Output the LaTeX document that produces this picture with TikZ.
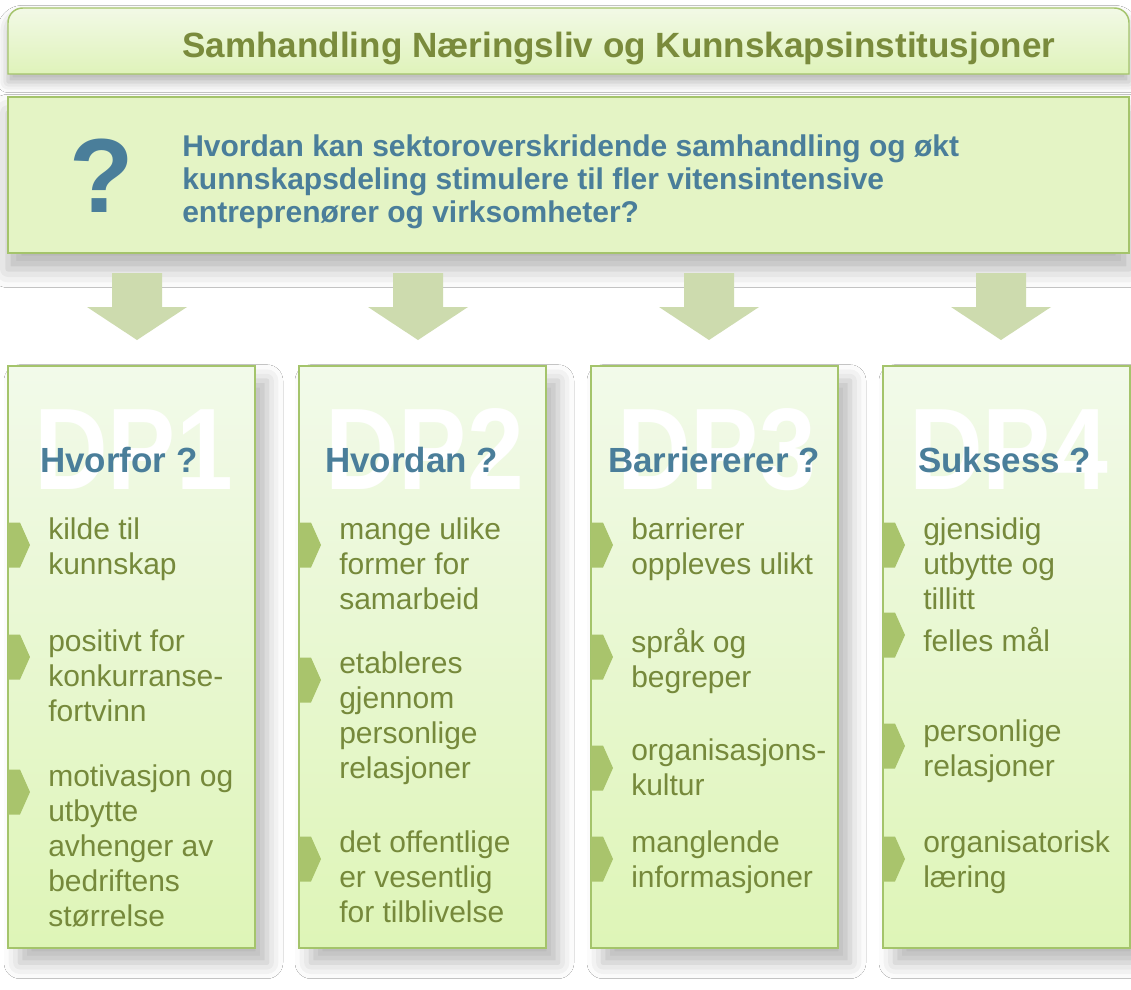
\documentclass[tikz,border=0pt]{standalone}
\usepackage{fontspec}
\setmainfont{Liberation Sans}
\usetikzlibrary{shadows.blur}
\definecolor{bord}{HTML}{A4C46B}
\definecolor{titletext}{HTML}{7A8B3C}
\definecolor{bluetext}{HTML}{4A7E9A}
\definecolor{bullettext}{HTML}{76893B}
\definecolor{chevc}{HTML}{A9C46C}
\definecolor{arrowc}{HTML}{CDDBAE}
\definecolor{boxtop}{HTML}{F2FAEA}
\definecolor{boxbot}{HTML}{DEF5B7}
\definecolor{qfill}{HTML}{E4F4C5}
\definecolor{ttop}{HTML}{F2F9E6}
\definecolor{tbot}{HTML}{DFF3BA}
\newcommand\lns[1]{\begin{tabular}[t]{@{}l@{}}#1\end{tabular}}
\tikzset{
  panel/.style={draw=bord, line width=1.1pt, top color=boxtop, bottom color=boxbot,
    blur shadow={shadow xshift=9pt, shadow yshift=-11pt, shadow blur radius=12pt, shadow opacity=28}},
  titlebox/.style={draw=bord, line width=1.1pt, top color=ttop, bottom color=tbot,
    blur shadow={shadow xshift=0pt, shadow yshift=-6pt, shadow blur radius=8pt, shadow opacity=30}},
  qbox/.style={draw=bord, line width=1.1pt, fill=qfill,
    blur shadow={shadow xshift=0pt, shadow yshift=-12pt, shadow blur radius=14pt, shadow opacity=30}},
  downarrow/.style={fill=arrowc, draw=none},
  chevron/.style={fill=chevc, draw=none},
  wm/.style={text=white, inner sep=0pt, anchor=base west, xscale=0.88, font=\fontsize{87}{87}\selectfont\bfseries},
  header/.style={text=bluetext, inner sep=0pt, anchor=base west, font=\fontsize{26.2}{30}\selectfont\bfseries},
  btxt/.style={text=bullettext, inner sep=0pt, anchor=base west, font=\fontsize{22.5}{26.25}\selectfont},
}
\begin{document}
\begin{tikzpicture}[x=0.75pt,y=-0.75pt]
\useasboundingbox (0,0) rectangle (1131,989);
\fill[white] (0,0) rectangle (1131,989);

% title box
\path[titlebox] (8,74) [rounded corners=11pt] -- (8,8) -- (1129,8) [sharp corners] -- (1129,74) -- cycle;
\node[inner sep=0pt, anchor=base west, text=titletext, font=\fontsize{26.3}{30}\selectfont\bfseries]
  (title) at (182,57) {Samhandling Næringsliv og Kunnskapsinstitusjoner};

% question box
\path[qbox] (8,97) rectangle (1129,253);
\node[inner sep=0pt, anchor=base west, text=bluetext, font=\fontsize{79}{79}\selectfont\bfseries]
  (qmark) at (69,212) {?};
\node[inner sep=0pt, anchor=base west, text=bluetext, font=\fontsize{22.5}{24.75}\selectfont\bfseries]
  (question) at (182,156) {\lns{Hvordan kan sektoroverskridende samhandling og økt\\kunnskapsdeling stimulere til fler vitensintensive\\entreprenører og virksomheter?}};

% arrows
\foreach \c in {137,418,709,1001}{
  \path[downarrow] (\c-25,273) -- (\c+25,273) -- (\c+25,307) -- (\c+50,307) -- (\c,340)
    -- (\c-50,307) -- (\c-25,307) -- cycle;
}

% columns
\foreach \L in {8,299,591,883}{
  \path[panel] (\L,366) rectangle (\L+247,948);
}

% watermarks and headers
\node[wm] (wm1) at (34,489) {DP1};
\node[wm] (wm2) at (325,489) {DP2};
\node[wm] (wm3) at (617,489) {DP3};
\node[wm] (wm4) at (909,489) {DP4};
\node[header] (h1) at (40,472) {Hvorfor ?};
\node[header] (h2) at (325,472) {Hvordan ?};
\node[header] (h3) at (608,472) {Barriererer ?};
\node[header] (h4) at (918,472) {Suksess ?};

% chevrons
\foreach \L/\cy in {8/545,8/657,8/792, 299/545,299/680,299/859,
                    591/545,591/657,591/768,591/859, 883/545,883/635,883/746,883/859}{
  \path[chevron] (\L,\cy-22.5) -- (\L+12,\cy-22.5) -- (\L+22,\cy) -- (\L+12,\cy+22.5) -- (\L,\cy+22.5) -- cycle;
}

% bullet texts
\node[btxt] (a1) at (48,539) {\lns{kilde til\\kunnskap}};
\node[btxt] (a2) at (48,651) {\lns{positivt for\\konkurranse-\\fortvinn}};
\node[btxt] (a3) at (48,786) {\lns{motivasjon og\\utbytte\\avhenger av\\bedriftens\\størrelse}};

\node[btxt] (b1) at (339,539) {\lns{mange ulike\\former for\\samarbeid}};
\node[btxt] (b2) at (339,673) {\lns{etableres\\gjennom\\personlige\\relasjoner}};
\node[btxt] (b3) at (339,852) {\lns{det offentlige\\er vesentlig\\for tilblivelse}};

\node[btxt] (c1) at (631,539) {\lns{barrierer\\oppleves ulikt}};
\node[btxt] (c2) at (631,652) {\lns{språk og\\begreper}};
\node[btxt] (c3) at (631,760) {\lns{organisasjons-\\kultur}};
\node[btxt] (c4) at (631,852) {\lns{manglende\\informasjoner}};

\node[btxt] (d1) at (923,539) {\lns{gjensidig\\utbytte og\\tillitt}};
\node[btxt] (d2) at (923,651) {\lns{felles mål}};
\node[btxt] (d3) at (923,741) {\lns{personlige\\relasjoner}};
\node[btxt] (d4) at (923,852) {\lns{organisatorisk\\læring}};
\end{tikzpicture}
\end{document}
